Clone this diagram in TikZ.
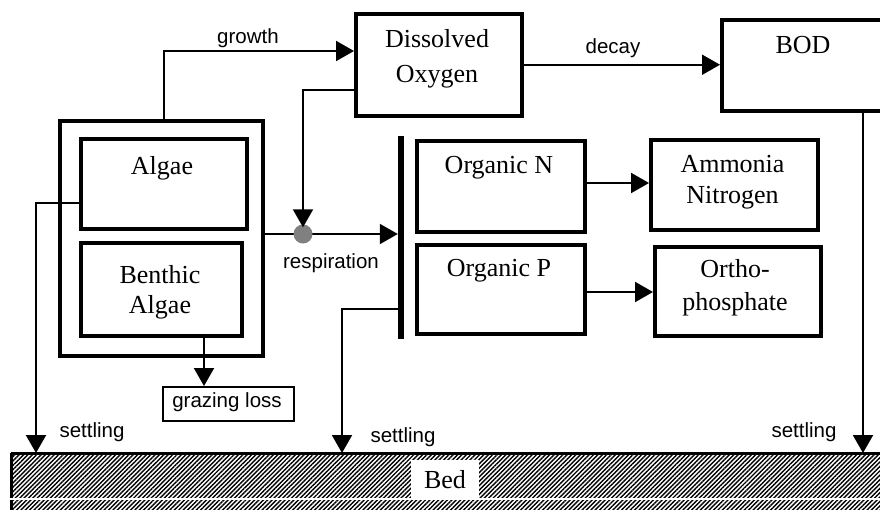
\documentclass[tikz,border=0pt]{standalone}
\usepackage{fontspec}
\setmainfont{Liberation Serif}
\setsansfont{Liberation Sans}
\usetikzlibrary{arrows.meta,patterns.meta}
\definecolor{dotgray}{RGB}{128,128,128}
\begin{document}
\begin{tikzpicture}[x=1pt,y=-1pt,
 box/.style={draw, line width=3.5pt, inner sep=0pt, anchor=north west},
 lbl/.style={font=\fontsize{26}{30}\selectfont, anchor=base, inner sep=0pt},
 slbl/.style={font=\sffamily\fontsize{20.5}{24}\selectfont, anchor=base, inner sep=0pt},
 arr/.style={line width=2pt, -{Triangle[length=18pt,width=20pt]}},
 ln/.style={line width=2pt}]
\useasboundingbox (0,0) rectangle (880,509);

% bed
\node[pattern={Lines[angle=45,distance=3.1pt,line width=1.4pt]}, minimum width=900pt, minimum height=80pt, inner sep=0pt, anchor=north west] (bed) at (11,453) {};
\draw[line width=3pt] (bed.north west) -- (bed.north east);
\draw[line width=3pt] (bed.north west) -- (bed.south west);
\draw[white, line width=2pt] (0,498.5) -- (900,498.5);
\node[fill=white, font=\fontsize{26}{30}\selectfont, minimum width=68pt, minimum height=40pt, inner sep=0pt] (bedlbl) at (445,480) {Bed};

% boxes
\node[box, minimum width=166pt, minimum height=102pt] (do) at (354,12) {};
\node[box, minimum width=172pt, minimum height=91pt] (bod) at (720,18) {};
\node[box, line width=4pt, minimum width=203pt, minimum height=235pt] (outer) at (58,119) {};
\node[box, minimum width=166pt, minimum height=90pt] (algae) at (79,137) {};
\node[box, minimum width=161pt, minimum height=93pt] (benthic) at (79,241) {};
\node[box, line width=1.5pt, minimum width=131pt, minimum height=34pt] (grazing) at (162,386) {};
\node[box, minimum width=168pt, minimum height=91pt] (orgn) at (415,139) {};
\node[box, minimum width=168pt, minimum height=89pt] (orgp) at (415,243) {};
\node[box, minimum width=167pt, minimum height=90pt] (amm) at (649,138) {};
\node[box, minimum width=166pt, minimum height=89pt] (ortho) at (653,245) {};
\node[fill, minimum width=6pt, minimum height=203pt, inner sep=0pt, anchor=north] (bar) at (401,136) {};

% box texts
\node[lbl] (dot1) at (437,47) {Dissolved};
\node[lbl] (dot2) at (437,82) {Oxygen};
\node[lbl] (bodt) at (803,53) {BOD};
\node[lbl] (algt) at (162,174) {Algae};
\node[lbl] (ben1) at (160,283) {Benthic};
\node[lbl] (ben2) at (160,313) {Algae};
\node[slbl] (grazt) at (227,407) {grazing loss};
\node[lbl] (orgnt) at (499,173) {Organic N};
\node[lbl] (orgpt) at (499,276) {Organic P};
\node[lbl] (amm1) at (732.5,172) {Ammonia};
\node[lbl] (amm2) at (732.5,203) {Nitrogen};
\node[lbl] (orth1) at (735,277) {Ortho-};
\node[lbl] (orth2) at (735,310) {phosphate};

% connectors
\draw[arr] (164,0 |- outer.north) |- (do.west |- 0,51);
\node[slbl] (growtht) at (248,43) {growth};
\draw[arr] (do.east) -- (bod.west |- do.east);
\node[slbl] (decayt) at (613,53) {decay};

\coordinate (dc) at (303,234);
\draw[arr] (outer.east |- dc) -- (bar.west |- dc);
\node[circle, fill=dotgray, minimum size=19pt, inner sep=0pt] (dot) at (dc) {};
\draw[arr, shorten >=-3pt] (do.west |- 0,90) -| (dot.north);
\node[slbl] (respt) at (331,268) {respiration};

\draw[arr] (algae.west |- 0,203) -| (36,0 |- bed.north);
\node[slbl] (set1) at (92,437) {settling};
\draw[arr] (204,0 |- benthic.south) -- (204,0 |- grazing.north);
\draw[arr] (bar.west |- 0,309) -| (342,0 |- bed.north);
\node[slbl] (set2) at (403,442) {settling};
\draw[arr] (863,0 |- bod.south) -- (863,0 |- bed.north);
\node[slbl] (set3) at (804,437) {settling};
\draw[arr] (orgn.east |- 0,183) -- (amm.west |- 0,183);
\draw[arr] (orgp.east |- 0,292) -- (ortho.west |- 0,292);
\end{tikzpicture}
\end{document}
